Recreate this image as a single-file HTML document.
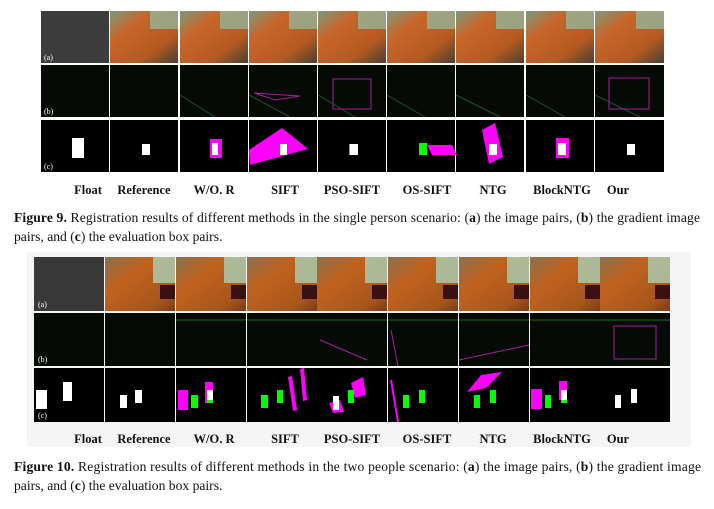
<!DOCTYPE html>
<html><head><meta charset="utf-8"><style>
body{margin:0;background:#fff;width:714px;height:509px;overflow:hidden;font-family:"Liberation Serif",serif}
</style></head><body>
<svg width="714" height="509" xmlns="http://www.w3.org/2000/svg" style="position:absolute;left:0;top:0">
<defs>
<linearGradient id="o9" x1="0" y1="0" x2="1" y2="1"><stop offset="0" stop-color="#7a9a80"/><stop offset="0.3" stop-color="#c8662a"/><stop offset="0.7" stop-color="#b55a22"/><stop offset="1" stop-color="#4a4030"/></linearGradient>
<linearGradient id="o10" x1="0" y1="0" x2="1" y2="1"><stop offset="0" stop-color="#8a7050"/><stop offset="0.35" stop-color="#c0621e"/><stop offset="0.8" stop-color="#a8561c"/><stop offset="1" stop-color="#7a3a18"/></linearGradient>
</defs>
<rect x="27" y="252" width="664" height="195" fill="#f5f5f5"/>
<g id="f9">
<rect x="41" y="11" width="68" height="52" fill="#3c3c3c"/>
<g fill="url(#o9)">
<rect x="110" y="11" width="68" height="52"/><rect x="180" y="11" width="68" height="52"/><rect x="249" y="11" width="68" height="52"/><rect x="318" y="11" width="68" height="52"/><rect x="387" y="11" width="68" height="52"/><rect x="456" y="11" width="68" height="52"/><rect x="526" y="11" width="68" height="52"/><rect x="595" y="11" width="69" height="52"/>
</g>
<g fill="#8fc0a8" opacity="0.7">
<rect x="150" y="11" width="28" height="18"/><rect x="220" y="11" width="28" height="18"/><rect x="289" y="11" width="28" height="18"/><rect x="358" y="11" width="28" height="18"/><rect x="427" y="11" width="28" height="18"/><rect x="496" y="11" width="28" height="18"/><rect x="566" y="11" width="28" height="18"/><rect x="636" y="11" width="28" height="18"/>
</g>
<g fill="#050a05">
<rect x="41" y="65" width="68" height="52"/><rect x="110" y="65" width="68" height="52"/><rect x="180" y="65" width="68" height="52"/><rect x="249" y="65" width="68" height="52"/><rect x="318" y="65" width="68" height="52"/><rect x="387" y="65" width="68" height="52"/><rect x="456" y="65" width="68" height="52"/><rect x="526" y="65" width="68" height="52"/><rect x="595" y="65" width="69" height="52"/>
</g>
<g stroke="#1f6a2a" stroke-width="1" fill="none" opacity="0.8">
<path d="M180 95 L215 117 M249 95 L290 117 M318 95 L355 117 M387 95 L425 117 M456 95 L500 117 M526 95 L565 117 M595 95 L640 117"/>
</g>
<g stroke="#a020a0" fill="none"><rect x="333" y="79" width="38" height="30"/><rect x="609" y="78" width="40" height="31"/><path d="M254 93 L300 96 L275 100 Z"/></g>
<g fill="#000">
<rect x="41" y="120" width="68" height="52"/><rect x="110" y="120" width="68" height="52"/><rect x="180" y="120" width="68" height="52"/><rect x="249" y="120" width="68" height="52"/><rect x="318" y="120" width="68" height="52"/><rect x="387" y="120" width="68" height="52"/><rect x="456" y="120" width="68" height="52"/><rect x="526" y="120" width="68" height="52"/><rect x="595" y="120" width="69" height="52"/>
</g>
<g fill="#ff00ff">
<rect x="210" y="139" width="12" height="19"/>
<polygon points="249,150 282,128 308,149 250,165"/>
<polygon points="427,145 452,145 457,155 432,155"/>
<polygon points="482,130 495,123 503,157 489,164"/>
<rect x="556" y="138" width="13" height="20"/>
</g>
<g fill="#0f0"><rect x="419" y="143" width="8" height="12"/><rect x="349" y="144" width="9" height="11"/></g>
<g fill="#fff">
<rect x="72" y="138" width="12" height="20"/><rect x="142" y="144" width="8" height="11"/><rect x="212" y="143" width="6" height="12"/><rect x="280" y="144" width="7" height="11"/><rect x="350" y="144" width="8" height="11"/><rect x="489" y="144" width="8" height="11"/><rect x="558" y="143" width="8" height="12"/><rect x="627" y="144" width="8" height="11"/>
</g>
<g fill="#fff" font-size="8" font-family="Liberation Serif"><text x="44" y="60">(a)</text><text x="44" y="114">(b)</text><text x="44" y="169">(c)</text></g>
</g>
<g id="f10">
<rect x="34" y="257" width="70" height="54" fill="#383838"/>
<g fill="url(#o10)">
<rect x="105" y="257" width="70" height="54"/><rect x="176" y="257" width="70" height="54"/><rect x="247" y="257" width="70" height="54"/><rect x="317" y="257" width="70" height="54"/><rect x="388" y="257" width="70" height="54"/><rect x="459" y="257" width="70" height="54"/><rect x="530" y="257" width="70" height="54"/><rect x="600" y="257" width="70" height="54"/>
</g>
<g fill="#a8d8c0" opacity="0.75">
<rect x="153" y="257" width="22" height="26"/><rect x="224" y="257" width="22" height="26"/><rect x="295" y="257" width="22" height="26"/><rect x="365" y="257" width="22" height="26"/><rect x="436" y="257" width="22" height="26"/><rect x="507" y="257" width="22" height="26"/><rect x="578" y="257" width="22" height="26"/><rect x="648" y="257" width="22" height="26"/>
</g>
<g fill="#3a1010">
<rect x="160" y="285" width="15" height="14"/><rect x="231" y="285" width="15" height="14"/><rect x="302" y="285" width="15" height="14"/><rect x="372" y="285" width="15" height="14"/><rect x="443" y="285" width="15" height="14"/><rect x="514" y="285" width="15" height="14"/><rect x="585" y="285" width="15" height="14"/><rect x="655" y="285" width="15" height="14"/>
</g>
<g fill="#050a05">
<rect x="34" y="313" width="70" height="53"/><rect x="105" y="313" width="70" height="53"/><rect x="176" y="313" width="70" height="53"/><rect x="247" y="313" width="70" height="53"/><rect x="317" y="313" width="70" height="53"/><rect x="388" y="313" width="70" height="53"/><rect x="459" y="313" width="70" height="53"/><rect x="530" y="313" width="70" height="53"/><rect x="600" y="313" width="70" height="53"/>
</g>
<g stroke="#1f6a2a" fill="none"><path d="M176 320 L246 320 M247 320 L317 320 M317 320 L387 320 M388 320 L458 320 M459 320 L529 320 M530 320 L600 320 M600 320 L670 320"/></g>
<g stroke="#a020a0" fill="none"><rect x="614" y="326" width="42" height="33"/><path d="M459 360 L529 345 M391 330 L398 366 M320 340 L367 360"/></g>
<g fill="#000">
<rect x="34" y="368" width="70" height="54"/><rect x="105" y="368" width="70" height="54"/><rect x="176" y="368" width="70" height="54"/><rect x="247" y="368" width="70" height="54"/><rect x="317" y="368" width="70" height="54"/><rect x="388" y="368" width="70" height="54"/><rect x="459" y="368" width="70" height="54"/><rect x="530" y="368" width="70" height="54"/><rect x="600" y="368" width="70" height="54"/>
</g>
<g fill="#ff00ff">
<rect x="178" y="390" width="10" height="20"/><rect x="205" y="382" width="8" height="21"/>
<polygon points="288,377 292,376 297,410 293,411"/><polygon points="300,369 304,368 307,400 303,401"/>
<polygon points="329,403 340,400 344,412 333,413"/><polygon points="351,383 363,377 366,395 355,398"/>
<polygon points="390,380 392,380 399,422 397,422"/>
<polygon points="467,392 481,375 502,372 486,388"/>
<rect x="531" y="389" width="11" height="20"/><rect x="559" y="381" width="8" height="19"/>
</g>
<g fill="#0f0">
<rect x="191" y="395" width="7" height="13"/><rect x="261" y="395" width="7" height="13"/><rect x="277" y="390" width="6" height="13"/><rect x="348" y="390" width="6" height="13"/><rect x="403" y="395" width="6" height="13"/><rect x="419" y="390" width="6" height="13"/><rect x="474" y="395" width="6" height="13"/><rect x="490" y="390" width="6" height="13"/><rect x="545" y="395" width="6" height="13"/><rect x="207" y="400" width="6" height="3"/><rect x="561" y="400" width="6" height="3"/>
</g>
<g fill="#fff">
<rect x="36" y="390" width="11" height="19"/><rect x="63" y="382" width="9" height="19"/><rect x="120" y="395" width="7" height="13"/><rect x="135" y="390" width="7" height="13"/><rect x="207" y="390" width="6" height="10"/><rect x="333" y="396" width="6" height="14"/><rect x="561" y="390" width="6" height="10"/><rect x="615" y="395" width="6" height="13"/><rect x="631" y="389" width="6" height="14"/>
</g>
<g fill="#fff" font-size="8" font-family="Liberation Serif"><text x="38" y="307">(a)</text><text x="38" y="362">(b)</text><text x="38" y="418">(c)</text></g>
</g>
<g font-size="12.5" font-weight="bold" text-anchor="middle" fill="#111">
<text x="88" y="194">Float</text><text x="144" y="194">Reference</text><text x="214" y="194">W/O. R</text><text x="285" y="194">SIFT</text><text x="352" y="194">PSO-SIFT</text><text x="427" y="194">OS-SIFT</text><text x="493" y="194">NTG</text><text x="562" y="194">BlockNTG</text><text x="618" y="194">Our</text>
<text x="88" y="443">Float</text><text x="144" y="443">Reference</text><text x="214" y="443">W/O. R</text><text x="285" y="443">SIFT</text><text x="352" y="443">PSO-SIFT</text><text x="427" y="443">OS-SIFT</text><text x="493" y="443">NTG</text><text x="562" y="443">BlockNTG</text><text x="618" y="443">Our</text>
</g>
<g font-size="13.6" fill="#111">
<text x="14" y="222" textLength="686" lengthAdjust="spacing"><tspan font-weight="bold">Figure 9.</tspan> Registration results of different methods in the single person scenario: (<tspan font-weight="bold">a</tspan>) the image pairs, (<tspan font-weight="bold">b</tspan>) the gradient image</text>
<text x="14" y="241">pairs, and (<tspan font-weight="bold">c</tspan>) the evaluation box pairs.</text>
<text x="14" y="471" textLength="687" lengthAdjust="spacing"><tspan font-weight="bold">Figure 10.</tspan> Registration results of different methods in the two people scenario: (<tspan font-weight="bold">a</tspan>) the image pairs, (<tspan font-weight="bold">b</tspan>) the gradient image</text>
<text x="14" y="490">pairs, and (<tspan font-weight="bold">c</tspan>) the evaluation box pairs.</text>
</g>
</svg>
</body></html>
